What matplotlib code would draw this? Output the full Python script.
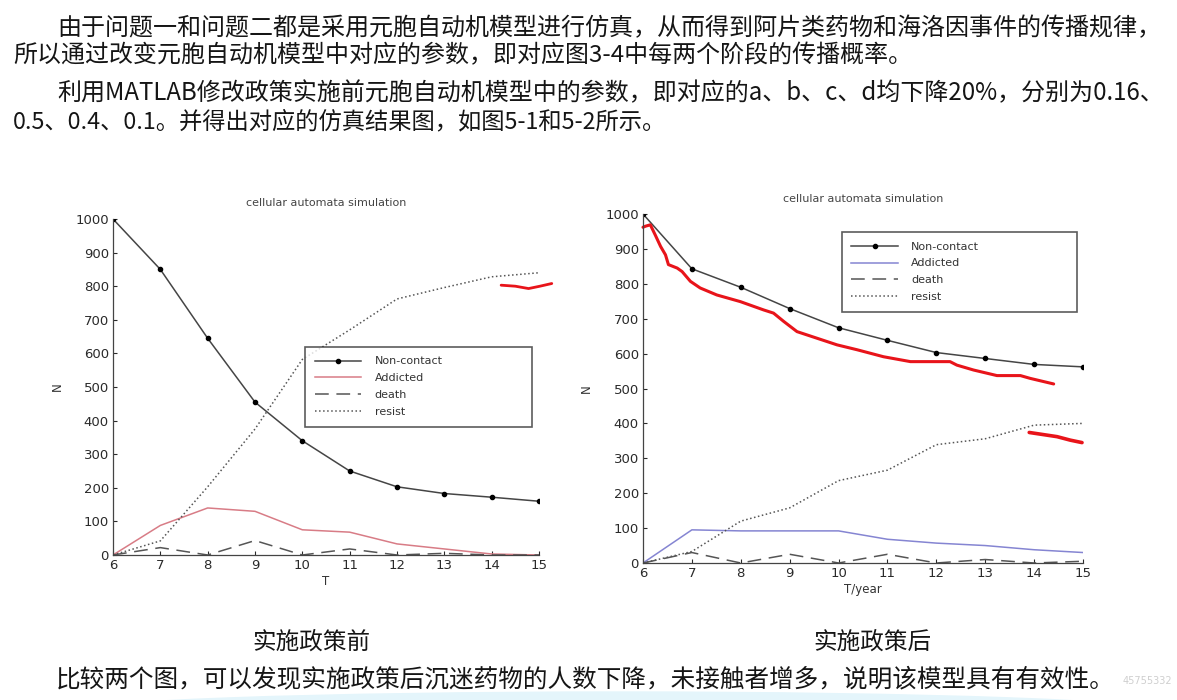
import numpy as np
import matplotlib.pyplot as plt
from matplotlib.patches import Ellipse

plt.rcParams['font.family'] = ['DejaVu Sans']

# ---- data ----
years = [6, 7, 8, 9, 10, 11, 12, 13, 14, 15]

before_noncontact = [1000, 850, 645, 455, 340, 250, 203, 183, 172, 160]
before_addicted = [0, 88, 140, 130, 75, 68, 33, 18, 3, 0]
before_death = [0, 22, 0, 43, 0, 18, 0, 5, 0, 0]
before_resist = [0, 42, 203, 375, 582, 670, 762, 796, 828, 840]

after_noncontact = [1000, 843, 790, 729, 674, 638, 603, 586, 569, 562]
after_addicted = [0, 95, 92, 92, 92, 68, 57, 50, 38, 30]
after_death = [0, 30, 0, 25, 0, 25, 0, 10, 0, 5]
after_resist = [0, 33, 120, 158, 236, 266, 339, 356, 395, 400]

# red pen strokes drawn on top of the screenshot
pen_left_x = [14.2, 14.5, 14.78, 15.02, 15.27]
pen_left_y = [803, 800, 793, 800, 808]
pen_right_x = [6.0, 6.05, 6.15, 6.25, 6.36, 6.46, 6.52, 6.7, 6.8, 6.97, 7.17, 7.51, 7.99,
               8.47, 8.67, 8.88, 9.15, 9.56, 9.97, 10.38, 10.92, 11.47, 12.28, 12.42,
               12.76, 13.24, 13.72, 13.92, 14.4]
pen_right_y = [962, 965, 969, 940, 907, 883, 855, 845, 835, 807, 788, 768, 749,
               725, 716, 692, 663, 644, 625, 611, 591, 577, 577, 567,
               553, 537, 537, 529, 513]
pen_right2_x = [13.9, 14.47, 14.74, 14.98]
pen_right2_y = [374, 362, 352, 345]

legend_labels = ['Non-contact', 'Addicted', 'death', 'resist']

para1 = '由于问题一和问题二都是采用元胞自动机模型进行仿真，从而得到阿片类药物和海洛因事件的传播规律，'
para2 = '所以通过改变元胞自动机模型中对应的参数，即对应图3-4中每两个阶段的传播概率。'
para3 = '利用MATLAB修改政策实施前元胞自动机模型中的参数，即对应的a、b、c、d均下降20%，分别为0.16、'
para4 = '0.5、0.4、0.1。并得出对应的仿真结果图，如图5-1和5-2所示。'
caption_left = '实施政策前'
caption_right = '实施政策后'
conclusion = '比较两个图，可以发现实施政策后沉迷药物的人数下降，未接触者增多，说明该模型具有有效性。'
watermark = '45755332'

W, H = 1177, 700
fig = plt.figure(figsize=(W / 100, H / 100), dpi=100)
fig.patch.set_facecolor('white')

cjk = ['Noto Sans CJK SC', 'DejaVu Sans']


def px(x, y):
    return x / W, 1 - y / H


def fit_text(x, y, s, width, ha='left', **kw):
    # place text, then scale its font so it spans the given pixel width
    t = fig.text(*px(x, y), s, fontsize=16, family=cjk, ha=ha, va='center',
                 color='#151515', fontweight='light', **kw)
    r = fig.canvas.get_renderer()
    w = t.get_window_extent(renderer=r).width
    t.set_fontsize(16 * width / w)
    return t


def draw_panel(rect, nc, ad, de, re, ad_color, xlabel, leg_box, ypad):
    ax = fig.add_axes(rect)
    ax.plot(years, nc, color='#454545', lw=1.1, marker='o', ms=3,
            mfc='black', mec='black', label=legend_labels[0])
    ax.plot(years, ad, color=ad_color, lw=1.1, label=legend_labels[1])
    ax.plot(years, de, color='#555555', lw=1.1, dashes=(9, 5), label=legend_labels[2])
    ax.plot(years, re, color='#555555', lw=1.1, linestyle=':', label=legend_labels[3])
    ax.set_xlim(6, 15)
    ax.set_ylim(0, 1000)
    ax.set_xticks(years)
    ax.set_yticks(range(0, 1001, 100))
    for s in ['top', 'right']:
        ax.spines[s].set_visible(False)
    for s in ['left', 'bottom']:
        ax.spines[s].set_color('#444444')
        ax.spines[s].set_linewidth(0.9)
    ax.tick_params(direction='in', length=3, labelsize=9.5, colors='#2a2a2a',
                   width=0.8, pad=3)
    ax.set_title('cellular automata simulation', fontsize=8, color='#444444', pad=9)
    ax.set_xlabel(xlabel, fontsize=8.5, color='#333333', labelpad=2)
    ax.set_ylabel('N', fontsize=8.5, color='#333333', labelpad=ypad)
    ax.set_facecolor('white')
    leg = ax.legend(loc='upper left', bbox_to_anchor=leg_box, mode='expand',
                    borderaxespad=0, fontsize=8, frameon=True, fancybox=False,
                    handlelength=4.2, borderpad=0.85, labelspacing=0.62,
                    handletextpad=1.2)
    leg.get_frame().set_edgecolor('#333333')
    leg.get_frame().set_linewidth(1.2)
    for t in leg.get_texts():
        t.set_color('#333333')
    return ax


axl = draw_panel([113 / W, 1 - 555 / H, 426 / W, 336 / H],
                 before_noncontact, before_addicted, before_death, before_resist,
                 '#d87c86', 'T', (0.451, 0.0, 0.533, 0.619), 8)
axr = draw_panel([643 / W, 1 - 563 / H, 440 / W, 349 / H],
                 after_noncontact, after_addicted, after_death, after_resist,
                 '#8585d2', 'T/year', (0.452, 0.0, 0.534, 0.948), 9)

# red pen marks
axl.plot(pen_left_x, pen_left_y, color='#e8141a', lw=2.0, clip_on=False,
         solid_capstyle='round')
axr.plot(pen_right_x, pen_right_y, color='#e8141a', lw=2.2, clip_on=False,
         solid_capstyle='round')
axr.plot(pen_right2_x, pen_right2_y, color='#e8141a', lw=2.6, clip_on=False,
         solid_capstyle='round')

# pale wave at the bottom edge
fig.patches.append(Ellipse(px(620, 712), 1100 / W, 40 / H, transform=fig.transFigure,
                           color='#e4f5fb', zorder=0))

# document text
fit_text(57, 28, para1, 1108)
fit_text(13, 56, para2, 899)
fit_text(57, 93, para3, 1108)
fit_text(13, 122, para4, 654)
fit_text(311, 642, caption_left, 118, ha='center')
fit_text(872, 642, caption_right, 118, ha='center')
fit_text(56, 679, conclusion, 1060)
fig.text(*px(1172, 681), watermark, fontsize=7, ha='right', va='center',
         color='#cfcfcf', zorder=0)

fig.savefig('out.png', dpi=100)
